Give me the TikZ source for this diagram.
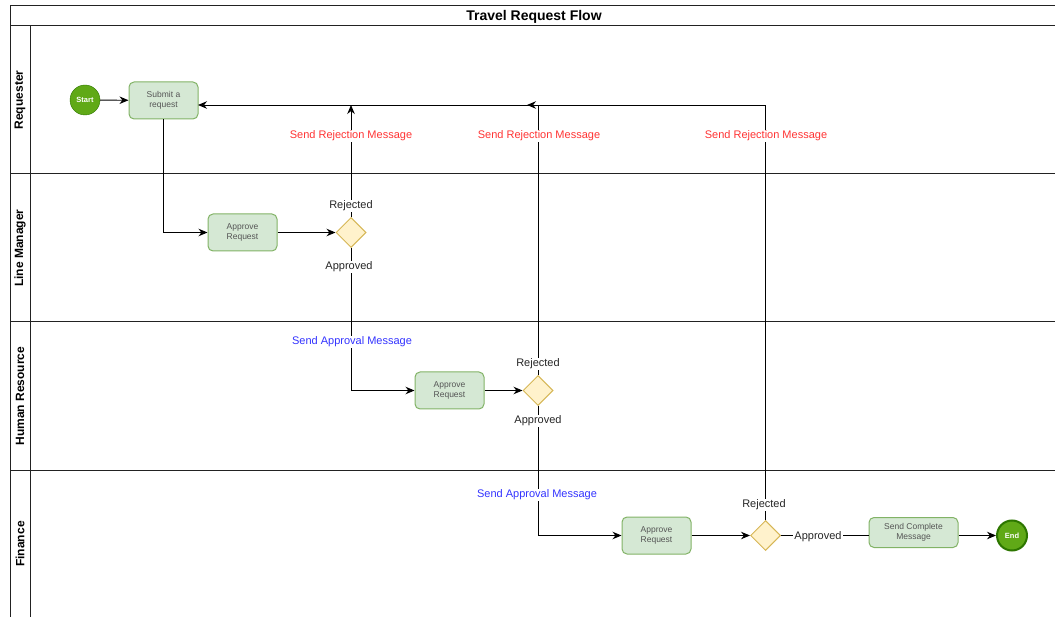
\documentclass[tikz,border=0pt]{standalone}
\usepackage{fontspec}
\setmainfont{Liberation Sans}
\usetikzlibrary{shapes.geometric,arrows.meta}
\definecolor{gfill}{HTML}{D5E8D4}
\definecolor{gline}{HTML}{82B366}
\definecolor{yfill}{HTML}{FFF2CC}
\definecolor{yline}{HTML}{D6B656}
\definecolor{evfill}{HTML}{60A917}
\definecolor{evline}{HTML}{2D7600}
\definecolor{txtgray}{HTML}{555555}
\definecolor{rejred}{HTML}{FF3333}
\definecolor{aprblue}{HTML}{3333FF}
\definecolor{framecol}{HTML}{222222}
\tikzset{
  task/.style={rectangle, rounded corners=5pt, draw=gline, fill=gfill, line width=1pt,
    minimum width=69pt, minimum height=37pt, inner sep=0pt, align=center,
    font=\fontsize{8.5}{10}\selectfont, text=txtgray},
  gate/.style={diamond, draw=yline, fill=yfill, line width=1pt, minimum width=30pt,
    minimum height=30pt, inner sep=0pt},
  evt/.style={circle, fill=evfill, draw=evline, minimum size=30pt, inner sep=0pt,
    text=white, font=\bfseries\fontsize{7.5}{9}\selectfont},
  flow/.style={draw=black, line width=0.9pt, -{Stealth[length=9pt,width=7.5pt]}},
  plainflow/.style={draw=black, line width=0.9pt},
  lbl/.style={fill=white, inner sep=1pt, font=\fontsize{11}{13}\selectfont, text=black!85},
  rejlbl/.style={lbl, text=rejred},
  aprlbl/.style={lbl, text=aprblue},
  lane/.style={draw=framecol, line width=1pt},
  lanelbl/.style={rotate=90, font=\bfseries\fontsize{12}{14}\selectfont}
}
\begin{document}
\begin{tikzpicture}[x=1pt,y=-1pt]
\useasboundingbox (0,0) rectangle (1055,617);
% pool frame
\draw[lane] (10,6) rectangle (1062,630);
\draw[lane] (10,26) -- (1062,26);
\draw[lane] (30,26) -- (30,630);
\draw[lane] (10,174) -- (1062,174);
\draw[lane] (10,322) -- (1062,322);
\draw[lane] (10,470) -- (1062,470);
\node[font=\bfseries\fontsize{14}{16}\selectfont] (title) at (534,16.5) {Travel Request Flow};
\node[lanelbl] (l1) at (20,100) {Requester};
\node[lanelbl] (l2) at (20,248) {Line Manager};
\node[lanelbl] (l3) at (20,396) {Human Resource};
\node[lanelbl] (l4) at (20,544) {Finance};
% nodes
\node[evt] (start) at (85,100) {Start};
\node[task] (sub) at (163.5,100.5) {Submit a\\request};
\node[task] (lma) at (242.5,232.5) {Approve\\Request};
\node[gate] (lmd) at (351,232.5) {};
\node[task] (hra) at (449.5,390.5) {Approve\\Request};
\node[gate] (hrd) at (538,390.5) {};
\node[task] (fa) at (656.5,535.5) {Approve\\Request};
\node[gate] (fd) at (765.5,535.5) {};
\node[task, minimum width=89pt, minimum height=30pt] (sc) at (913.5,532.5) {Send Complete\\Message};
\node[evt, line width=2pt] (endev) at (1012,535.5) {End};
\coordinate (c1) at (351,105);
\coordinate (c2) at (527,105);
\coordinate (c3) at (198,105);
% connectors
\draw[flow] (start) -- (sub);
\draw[flow] (sub.south) |- (lma.west);
\draw[flow] (lma) -- (lmd);
\draw[flow] (lmd.north) -- (c1);
\draw[flow] (lmd.south) |- (hra.west);
\draw[flow] (hra) -- (hrd);
\draw[flow] (hrd.north) |- (c2);
\draw[flow] (hrd.south) |- (fa.west);
\draw[flow] (fa) -- (fd);
\draw[flow] (fd.north) |- (c3);
\draw[plainflow] (fd.east) -- (sc.west |- fd.east);
\draw[flow] (sc.east |- endev.west) -- (endev.west);
% labels
\node[lbl] (r1) at (351,206) {Rejected};
\node[lbl] (a1) at (349,267) {Approved};
\node[rejlbl] (sr1) at (351,136) {Send Rejection Message};
\node[aprlbl] (sa1) at (352,342) {Send Approval Message};
\node[lbl] (r2) at (538,364) {Rejected};
\node[lbl] (a2) at (538,421) {Approved};
\node[rejlbl] (sr2) at (539,136) {Send Rejection Message};
\node[aprlbl] (sa2) at (537,495) {Send Approval Message};
\node[lbl] (r3) at (764,505) {Rejected};
\node[rejlbl] (sr3) at (766,136) {Send Rejection Message};
\node[lbl] (a3) at (818,537) {Approved};
\end{tikzpicture}
\end{document}
